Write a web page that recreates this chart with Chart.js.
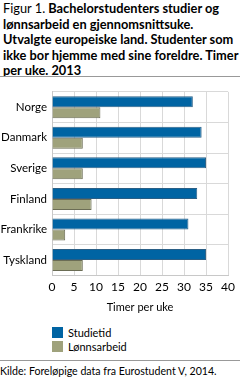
<!DOCTYPE html>
<html>
<head>
<meta charset="utf-8">
<script src="https://cdn.jsdelivr.net/npm/chart.js@4/dist/chart.umd.min.js"></script>
<style>
  body { margin: 0; width: 240px; height: 382px; background: #fff; font-family: Lato, sans-serif; color: #000; overflow: hidden; }
  #tittel { position: absolute; left: 3px; top: 1px; width: 240px; font-size: 12.8px; line-height: 15.6px; font-weight: bold; white-space: nowrap; }
  #tittel span { font-weight: normal; }
  #strek1 { position: absolute; left: 0; top: 76px; width: 240px; border-top: 1px solid #999; }
  #boks { position: absolute; left: 0; top: 80px; width: 240px; height: 238px; }
  #forklaring { position: absolute; left: 52px; top: 326px; font-size: 11px; line-height: 13.5px; }
  #forklaring div { display: flex; align-items: center; }
  #forklaring i { display: inline-block; width: 11px; height: 11px; margin-right: 5px; }
  #strek2 { position: absolute; left: 0; top: 360px; width: 240px; border-top: 1px solid #999; }
  #kilde { position: absolute; left: 0; top: 365px; font-size: 10.6px; }
</style>
</head>
<body>
<div id="tittel"><span>Figur 1.</span> Bachelorstudenters studier og<br>lønnsarbeid en gjennomsnittsuke.<br>Utvalgte europeiske land. Studenter som<br>ikke bor hjemme med sine foreldre. Timer<br>per uke. 2013</div>
<div id="strek1"></div>
<div id="boks"><canvas id="figur"></canvas></div>
<div id="forklaring"></div>
<div id="strek2"></div>
<div id="kilde">Kilde: Foreløpige data fra Eurostudent V, 2014.</div>
<script>
const land = ["Norge", "Danmark", "Sverige", "Finland", "Frankrike", "Tyskland"];
const studietid = [32, 34, 35, 33, 31, 35];
const lonnsarbeid = [11, 7, 7, 9, 3, 7];
const xTicks = [0, 5, 10, 15, 20, 25, 30, 35, 40];

const farger = ["#0064a3", "#9fa27c"];
const skrift = { family: 'Lato', size: 11.5 };

const figur = new Chart('figur', {
    type: 'bar',
    data: {
        labels: land,
        datasets: [{
            label: 'Studietid',
            data: studietid,
            backgroundColor: farger[0],
            borderColor: '#2a5f86',
            borderWidth: 1,
            categoryPercentage: 0.72,
            barPercentage: 1
        }, {
            label: 'Lønnsarbeid',
            data: lonnsarbeid,
            backgroundColor: farger[1],
            borderColor: '#6b6d55',
            borderWidth: 1,
            categoryPercentage: 0.72,
            barPercentage: 1
        }]
    },
    options: {
        indexAxis: 'y',
        responsive: true,
        maintainAspectRatio: false,
        animation: false,
        layout: { padding: { top: 10, right: 11, left: 0, bottom: 0 } },
        plugins: {
            legend: { display: false },
            tooltip: { enabled: false }
        },
        scales: {
            x: {
                min: 0,
                max: 40,
                afterBuildTicks: (ax) => { ax.ticks = xTicks.map(v => ({ value: v })); },
                grid: { color: '#d9d9d9', drawTicks: false },
                border: { color: '#c8c8c8' },
                ticks: { color: '#000', font: { family: 'Lato', size: 12 }, padding: 5 },
                title: { display: true, text: 'Timer per uke', color: '#000', font: { family: 'Lato', size: 11 }, padding: { top: 1 } }
            },
            y: {
                afterFit: (ax) => { ax.width = 52; },
                grid: { color: '#d9d9d9', drawTicks: false },
                border: { color: '#c8c8c8' },
                ticks: { color: '#000', font: skrift, padding: 5 }
            }
        }
    }
});

// forklaring under figuren
const forklaring = document.getElementById('forklaring');
figur.data.datasets.forEach(function (ds) {
    const rad = document.createElement('div');
    rad.innerHTML = '<i style="background:' + ds.backgroundColor + '"></i>' + ds.label;
    forklaring.appendChild(rad);
});
</script>
</body>
</html>
